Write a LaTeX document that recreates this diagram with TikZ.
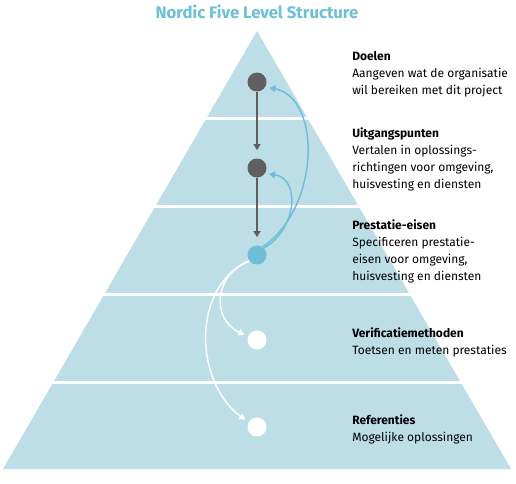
\documentclass[tikz,border=0pt]{standalone}
\usepackage{fontspec}
\setmainfont{Fira Sans}
\usetikzlibrary{arrows.meta}
\definecolor{pyrblue}{HTML}{BDDDE7}
\definecolor{nordcyan}{HTML}{6CBFD6}
\definecolor{dotgray}{HTML}{5F5F5F}

\begin{document}
\begin{tikzpicture}[x=0.75pt, y=0.75pt,
  level/.style={fill=pyrblue},
  gap/.style={white, line width=2.6pt},
  dot/.style={circle, minimum size=14.25pt, inner sep=0pt},
  down/.style={-{Triangle[length=4.5pt,width=5pt]}, line width=1.1pt, dotgray, shorten >=6pt},
  back/.style={-{Triangle[length=4.5pt,width=5pt]}, line width=1.1pt, nordcyan, shorten >=3pt},
  derive/.style={-{Triangle[length=4.5pt,width=5pt]}, line width=1.1pt, white, shorten >=3pt},
  lbl/.style={anchor=north west, align=left, inner sep=0pt, font=\fontsize{9}{12.75}\selectfont}]
  \useasboundingbox (0,0) rectangle (516,483);

  % pyramid with its five levels
  \fill[level] (257,452) -- (511,14) -- (3,14) -- cycle;
  \foreach \y in {364.5, 276.5, 188.5, 100.5}
    \draw[gap] (0,\y) -- (516,\y);

  \node[font=\bfseries\fontsize{12.5}{14}\selectfont, text=nordcyan] (title) at (257,471) {Nordic Five Level Structure};

  % one dot per level
  \node[dot, fill=dotgray] (doel) at (257,401) {};
  \node[dot, fill=dotgray] (uitg) at (257,315) {};
  \node[dot, fill=nordcyan] (prest) at (257,228) {};
  \node[dot, fill=white] (verif) at (257,143) {};
  \node[dot, fill=white] (refer) at (257,56) {};

  \draw[down] (doel) -- (uitg);
  \draw[down] (uitg) -- (prest);
  \draw[back] (prest.55) .. controls (320,275) and (322,385) .. (doel.-30);
  \draw[back] (prest.45) .. controls (298,255) and (300,305) .. (uitg.-35);
  \draw[derive] (prest.220) .. controls (215,210) and (210,165) .. (verif.160);
  \draw[derive] (prest.215) .. controls (190,195) and (195,100) .. (refer.150);

  % descriptions
  \node[lbl] (tdoel) at (352,432) {\textbf{Doelen}\\Aangeven wat de organisatie\\wil bereiken met dit project};
  \node[lbl] (tuitg) at (352,356) {\textbf{Uitgangspunten}\\Vertalen in oplossings-\\richtingen voor omgeving,\\huisvesting en diensten};
  \node[lbl] (tprest) at (352,264) {\textbf{Prestatie-eisen}\\Specificeren prestatie-\\eisen voor omgeving,\\huisvesting en diensten};
  \node[lbl] (tverif) at (352,156) {\textbf{Verificatiemethoden}\\Toetsen en meten prestaties};
  \node[lbl] (trefer) at (352,69) {\textbf{Referenties}\\Mogelijke oplossingen};
\end{tikzpicture}
\end{document}
